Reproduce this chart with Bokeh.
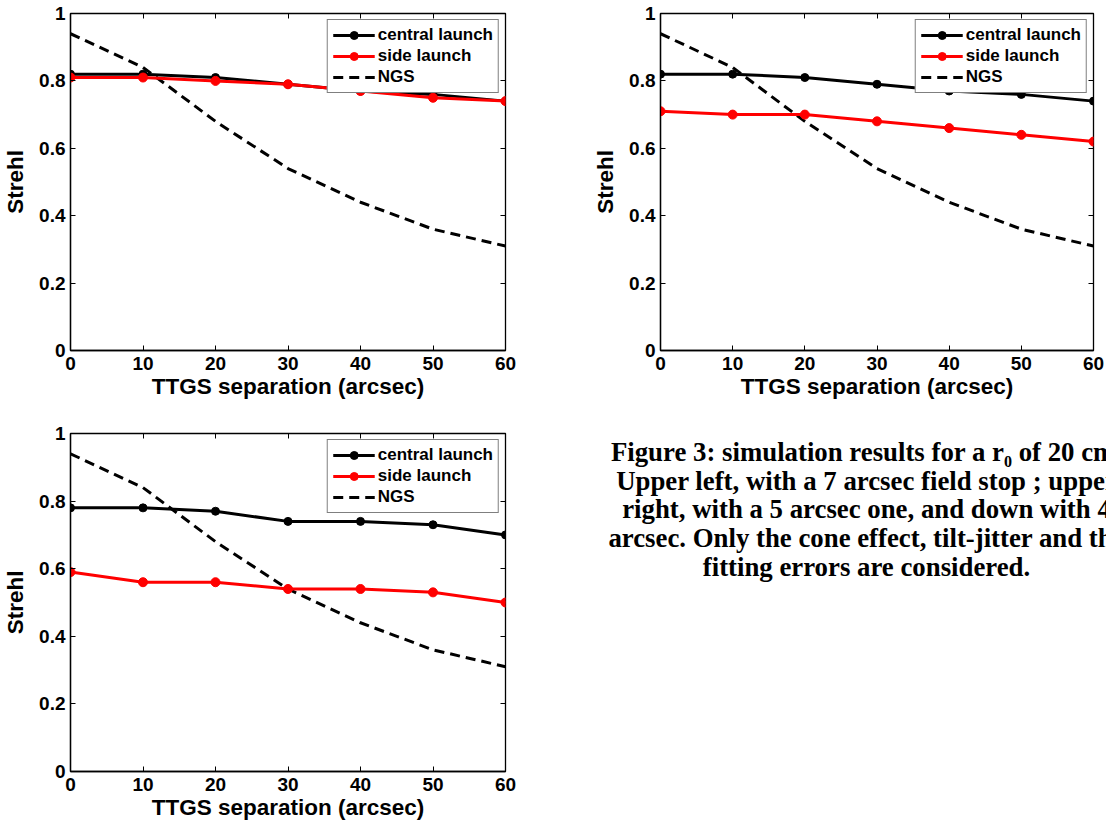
from bokeh.plotting import figure
from bokeh.models import (LinearAxis, Legend, LegendItem, Div, FixedTicker,
                          Range1d, CustomJSTickFormatter)
from bokeh.layouts import row, column
from bokeh.embed import file_html
from bokeh.resources import INLINE

# ---- data ----
separation = [0, 10, 20, 30, 40, 50, 60]
ngs = [0.94, 0.84, 0.68, 0.54, 0.44, 0.36, 0.31]

central_7 = [0.82, 0.82, 0.81, 0.79, 0.77, 0.76, 0.74]
side_7 = [0.81, 0.81, 0.80, 0.79, 0.77, 0.75, 0.74]

central_5 = [0.82, 0.82, 0.81, 0.79, 0.77, 0.76, 0.74]
side_5 = [0.71, 0.70, 0.70, 0.68, 0.66, 0.64, 0.62]

central_4 = [0.78, 0.78, 0.77, 0.74, 0.74, 0.73, 0.70]
side_4 = [0.59, 0.56, 0.56, 0.54, 0.54, 0.53, 0.50]

x_ticks = [0, 10, 20, 30, 40, 50, 60]
y_ticks = [0, 0.2, 0.4, 0.6, 0.8, 1]
y_tick_labels = ["0", "0.2", "0.4", "0.6", "0.8", "1"]

series_names = ["central launch", "side launch", "NGS"]
x_label = "TTGS separation (arcsec)"
y_label = "Strehl"

caption_lines = [
    "Figure 3: simulation results for a r<sub style='line-height:0;font-size:60%'>0</sub> of 20 cm.",
    "Upper left, with a 7 arcsec field stop ; upper",
    "right, with a 5 arcsec one, and down with 4",
    "arcsec. Only the cone effect, tilt-jitter and the",
    "fitting errors are considered.",
]

FONT = "Liberation Sans"


def make_panel(central, side, width, height, bl, br, bt, bb):
    p = figure(width=width, height=height, x_range=Range1d(0, 60),
               y_range=Range1d(0, 1), output_backend="svg",
               toolbar_location=None, min_border_left=bl, min_border_right=br,
               min_border_top=bt, min_border_bottom=bb)
    p.grid.visible = False
    p.outline_line_color = "black"
    p.outline_line_width = 1.3
    p.background_fill_color = "white"
    p.border_fill_color = "white"

    for ax in (p.xaxis[0], p.yaxis[0]):
        ax.major_tick_in = 5
        ax.major_tick_out = 0
        ax.minor_tick_line_color = None
        ax.axis_line_color = "black"
        ax.axis_line_width = 1.3
        ax.major_tick_line_width = 1
        ax.major_label_text_font = FONT
        ax.major_label_text_font_style = "bold"
        ax.major_label_text_font_size = "19px"
        ax.major_label_text_color = "black"
        ax.axis_label_text_font = FONT
        ax.axis_label_text_font_style = "bold"
        ax.axis_label_text_font_size = "22.5px"
        ax.axis_label_text_color = "black"
    p.xaxis[0].ticker = FixedTicker(ticks=x_ticks)
    p.yaxis[0].ticker = FixedTicker(ticks=y_ticks)
    p.yaxis[0].major_label_overrides = {t: l for t, l in zip(y_ticks, y_tick_labels)}
    p.xaxis[0].axis_label = x_label
    p.yaxis[0].axis_label = y_label
    p.xaxis[0].major_label_standoff = 6
    p.xaxis[0].axis_label_standoff = 1
    p.yaxis[0].major_label_standoff = 5
    p.yaxis[0].axis_label_standoff = 8

    blank = CustomJSTickFormatter(code="return ''")
    top = LinearAxis(ticker=FixedTicker(ticks=x_ticks), formatter=blank,
                     major_tick_in=5, major_tick_out=0, minor_tick_line_color=None,
                     axis_line_color=None, major_label_standoff=0)
    right = LinearAxis(ticker=FixedTicker(ticks=y_ticks), formatter=blank,
                       major_tick_in=5, major_tick_out=0, minor_tick_line_color=None,
                       axis_line_color=None, major_label_standoff=0)
    p.add_layout(top, "above")
    p.add_layout(right, "right")

    l3 = p.line(separation, ngs, line_color="black", line_width=3, line_dash="10 6")
    l1 = p.line(separation, central, line_color="black", line_width=3)
    c1 = p.scatter(separation, central, size=8, fill_color="black", line_color="black")
    l2 = p.line(separation, side, line_color="#ff0000", line_width=3)
    c2 = p.scatter(separation, side, size=9, fill_color="#ff0000", line_color="#ff0000")

    legend = Legend(items=[
        LegendItem(label=series_names[0], renderers=[l1, c1]),
        LegendItem(label=series_names[1], renderers=[l2, c2]),
        LegendItem(label=series_names[2], renderers=[l3]),
    ], location="top_right")
    legend.border_line_color = "black"
    legend.border_line_width = 1.5
    legend.background_fill_color = "white"
    legend.background_fill_alpha = 1
    legend.label_text_font = FONT
    legend.label_text_font_style = "bold"
    legend.label_text_font_size = "17px"
    legend.label_text_color = "black"
    legend.glyph_width = 42
    legend.glyph_height = 20
    legend.label_height = 20
    legend.label_standoff = 3
    legend.spacing = 1
    legend.padding = 5
    legend.margin = 6
    p.add_layout(legend)
    return p


p1 = make_panel(central_7, side_7, 590, 410, 70, 85, 13, 60)
p2 = make_panel(central_5, side_5, 516, 410, 69, 13, 13, 60)
p3 = make_panel(central_4, side_4, 590, 413, 70, 85, 23, 52)

caption_html = (
    "<div style=\"width:543px;text-align:center;font-family:'Liberation Serif';"
    "font-weight:bold;font-size:26.8px;line-height:28.7px;white-space:nowrap;"
    "color:black;padding-top:23px\">" + "<br>".join(caption_lines) + "</div>"
)
caption = Div(text=caption_html, width=516, height=413,
              styles={"overflow": "hidden"})

layout = column(row(p1, p2), row(p3, caption))

open("out.html", "w").write(file_html(layout, INLINE))
